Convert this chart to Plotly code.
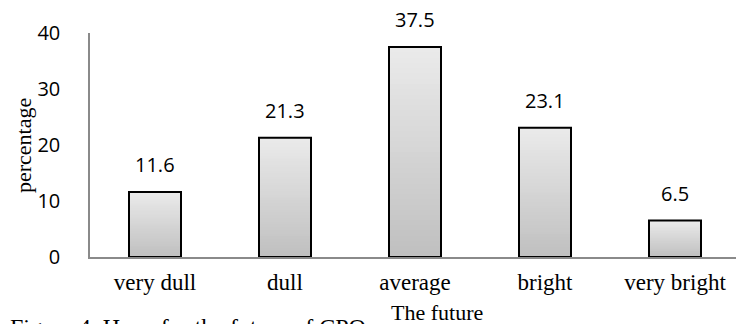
import plotly.graph_objects as go

# Hope for the future of CPO: share of respondents per outlook
categories = ["very dull", "dull", "average", "bright", "very bright"]
percentages = [11.6, 21.3, 37.5, 23.1, 6.5]
y_ticks = [0, 10, 20, 30, 40]

BAR_WIDTH = 0.4
TOP_GREY = (234, 234, 234)
BOTTOM_GREY = (192, 192, 192)
LAYERS = 40

SERIF = "Liberation Serif, Times New Roman, serif"
SANS = "Open Sans, Lato, sans-serif"

fig = go.Figure()

# Vertical grey gradient inside each bar: stacked layers, darkest at the base
for k in range(LAYERS):
    t = k / (LAYERS - 1)
    r, g, b = (round(BOTTOM_GREY[i] + (TOP_GREY[i] - BOTTOM_GREY[i]) * t) for i in range(3))
    fig.add_trace(go.Bar(
        x=categories,
        y=[v * (LAYERS - k) / LAYERS for v in percentages],
        base=[v * k / LAYERS for v in percentages],
        width=BAR_WIDTH,
        marker=dict(color=f"rgb({r},{g},{b})", line=dict(width=0)),
        showlegend=False,
        hoverinfo="skip",
    ))

# Black outline of each bar
fig.add_trace(go.Bar(
    x=categories,
    y=percentages,
    width=BAR_WIDTH,
    marker=dict(color="rgba(0,0,0,0)", line=dict(color="black", width=2)),
    showlegend=False,
))

# Value labels above the bars
for c, v in zip(categories, percentages):
    fig.add_annotation(
        x=c, y=v, text=f"{v}", showarrow=False,
        yanchor="bottom", yshift=12,
        font=dict(family=SANS, size=20, color="black"),
    )

# Axis titles and caption
fig.add_annotation(
    xref="paper", yref="paper", x=-0.102, y=0.496,
    text="percentage", textangle=-90, showarrow=False,
    xanchor="center", yanchor="middle",
    font=dict(family=SERIF, size=22, color="black"),
)
fig.add_annotation(
    xref="paper", yref="paper", x=0.537, y=-0.185,
    text="The future", showarrow=False,
    xanchor="center", yanchor="top",
    font=dict(family=SERIF, size=22, color="black"),
)
fig.add_annotation(
    xref="paper", yref="paper", x=-0.127, y=-0.245,
    text="Figure 4. Hope for the future of CPO", showarrow=False,
    xanchor="left", yanchor="top",
    font=dict(family=SERIF, size=24, color="black"),
)

fig.update_layout(
    width=736, height=324,
    margin=dict(l=90, r=0, t=33, b=67),
    barmode="overlay",
    plot_bgcolor="white", paper_bgcolor="white",
    xaxis=dict(
        range=[-0.5, -0.5 + 646 / 130],
        showline=True, linecolor="#8a8a8a", linewidth=1.5,
        showgrid=False, zeroline=False, ticks="",
        ticklabelstandoff=4,
        tickfont=dict(family=SERIF, size=23, color="black"),
    ),
    yaxis=dict(
        range=[0, 40], tickvals=y_ticks,
        showline=True, linecolor="#8a8a8a", linewidth=1.5,
        showgrid=False, zeroline=False, ticks="",
        ticklabelstandoff=24,
        tickfont=dict(family=SANS, size=20, color="black"),
    ),
)

fig.write_html("out.html")
